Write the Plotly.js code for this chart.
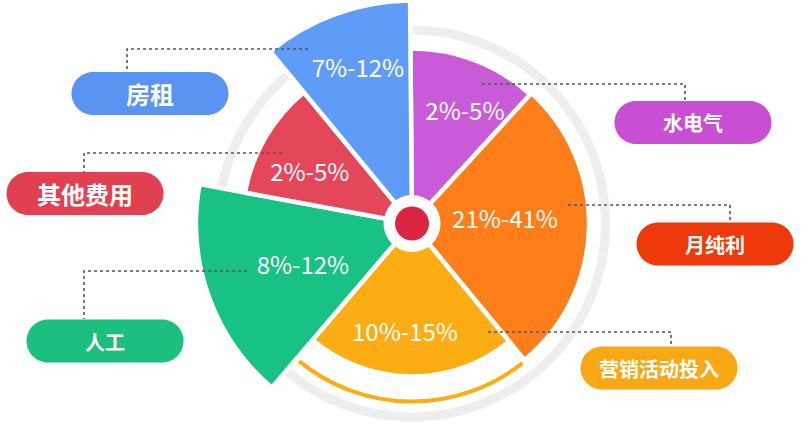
<!DOCTYPE html>
<html>
<head>
<meta charset="utf-8">
<script src="https://cdn.plot.ly/plotly-3.0.1.min.js"></script>
<style>html,body{margin:0;padding:0;background:#fff;overflow:hidden;height:430px;}#chart{width:803px;height:450px;}</style>
</head>
<body>
<div id="chart"></div>
<script>
// ---- data ----
const categories = ['水电气', '月纯利', '营销活动投入', '人工', '其他费用', '房租'];
const rangeLabels = ['2%-5%', '21%-41%', '10%-15%', '8%-12%', '2%-5%', '7%-12%'];
const sectorDeg = [43, 98, 80, 60, 40, 39];        // angular share of each sector
const sectorRadius = [175, 177, 153, 216, 170, 223]; // sector length

// ---- styles / layout ----
const W = 803, H = 450;                        // plot is a little taller than the 430px window (bottom hidden)
const CX = 412, CY = 223.5, PR = 223.5;        // polar centre (px) and radius of the axis
const startDeg = -0.5;
const colors = ['#c95ad8', '#fe7e1a', '#fbad13', '#18c284', '#e4475a', '#5f9cf7'];
const pillColors = ['#c84fd4', '#ee3a0b', '#f8a815', '#1bbf7e', '#e0404f', '#5b93f3'];
const pillFont = [20, 20, 20, 20, 24, 24];
const labelR = [122, 93, 112, 118, 113, 162];
const labelDTheta = [4.7, -2.7, 3.1, -2.9, -5.3, 0.5];
const pillCenters = [[693, 122.5], [715, 244], [659, 368], [105, 341], [85, 193.5], [150, 93.5]];
const leaders = [
  [[482, 84], [685, 84], [685, 101]],
  [[568, 205], [730, 205], [730, 222]],
  [[488, 332], [671, 332], [671, 346]],
  [[247, 271], [84, 271], [84, 319]],
  [[282, 153], [84, 153], [84, 172]],
  [[308, 49], [127, 49], [127, 72]]
];
const PW = 157, PH = 43;

// sector centres
const thetas = [];
let acc = startDeg;
sectorDeg.forEach(d => { thetas.push(acc + d / 2); acc += d; });
const yellowIdx = 2;

const fontCJK = '"Noto Sans CJK SC", "Noto Sans", sans-serif';

const traces = [];
// grey ring
traces.push({type: 'barpolar', r: [9], base: [189], theta: [180], width: [360],
  marker: {color: '#eeeeee', line: {width: 0}}, hoverinfo: 'skip', showlegend: false});
// yellow accent arc under marketing sector
traces.push({type: 'barpolar', r: [8], base: [174], theta: [thetas[yellowIdx]], width: [sectorDeg[yellowIdx] - 1],
  marker: {color: colors[yellowIdx], line: {color: '#ffffff', width: 4}}, hoverinfo: 'skip', showlegend: false});
// sectors
traces.push({type: 'barpolar', r: sectorRadius, theta: thetas, width: sectorDeg, base: 0,
  text: categories, marker: {color: colors, line: {color: '#ffffff', width: 4.5}},
  hoverinfo: 'text', showlegend: false});
// centre white disc + red dot
traces.push({type: 'scatterpolar', mode: 'markers', r: [0, 0], theta: [0, 0], cliponaxis: false,
  marker: {size: [57, 34], color: ['#ffffff', '#da2640'], opacity: 1, line: {width: 0}},
  hoverinfo: 'skip', showlegend: false});
// range labels
traces.push({type: 'scatterpolar', mode: 'text', r: labelR,
  theta: thetas.map((t, i) => t + labelDTheta[i]), text: rangeLabels, cliponaxis: false,
  textposition: 'middle center', textfont: {family: fontCJK, size: 24, color: '#ffffff'},
  hoverinfo: 'skip', showlegend: false});

const px = x => x / W, py = y => 1 - y / H;
function pillPath(cx, cy, w, h) {
  const r = h / 2, k = 0.5523 * r;
  const x0 = cx - w / 2, x1 = cx + w / 2, t = cy - r, b = cy + r;
  const P = (x, y) => px(x).toFixed(5) + ',' + py(y).toFixed(5);
  return 'M' + P(x0 + r, t) +
    ' C' + P(x0 + r - k, t) + ' ' + P(x0, cy - k) + ' ' + P(x0, cy) +
    ' C' + P(x0, cy + k) + ' ' + P(x0 + r - k, b) + ' ' + P(x0 + r, b) +
    ' L' + P(x1 - r, b) +
    ' C' + P(x1 - r + k, b) + ' ' + P(x1, cy + k) + ' ' + P(x1, cy) +
    ' C' + P(x1, cy - k) + ' ' + P(x1 - r + k, t) + ' ' + P(x1 - r, t) + ' Z';
}

const shapes = [], annotations = [];
categories.forEach((c, i) => {
  const [cx, cy] = pillCenters[i];
  shapes.push({type: 'path', xref: 'paper', yref: 'paper', path: pillPath(cx, cy, PW, PH),
    fillcolor: pillColors[i], line: {width: 0}, layer: 'above'});
  const pts = leaders[i];
  shapes.push({type: 'path', xref: 'paper', yref: 'paper',
    path: pts.map((p, j) => (j ? 'L' : 'M') + px(p[0]).toFixed(5) + ',' + py(p[1]).toFixed(5)).join(' '),
    line: {color: '#555555', width: 1.6, dash: 'dot'}, layer: 'above'});
  annotations.push({xref: 'paper', yref: 'paper', x: px(cx), y: py(cy), text: '<b>' + c + '</b>',
    showarrow: false, xanchor: 'center', yanchor: 'middle',
    font: {family: fontCJK, size: pillFont[i], color: '#ffffff'}});
});

const layout = {
  width: W, height: H, margin: {l: 0, r: 0, t: 0, b: 0},
  paper_bgcolor: '#ffffff', plot_bgcolor: '#ffffff', showlegend: false,
  polar: {
    domain: {x: [px(CX - PR), px(CX + PR)], y: [Math.max(0, py(CY + PR)), Math.min(1, py(CY - PR))]},
    bgcolor: 'rgba(0,0,0,0)', hole: 0,
    radialaxis: {range: [0, PR], visible: false, showgrid: false, showline: false, showticklabels: false},
    angularaxis: {rotation: 90, direction: 'clockwise', visible: false, showgrid: false, showline: false, showticklabels: false}
  },
  shapes: shapes, annotations: annotations
};

Plotly.newPlot('chart', traces, layout, {displayModeBar: false, staticPlot: true});
</script>
</body>
</html>
